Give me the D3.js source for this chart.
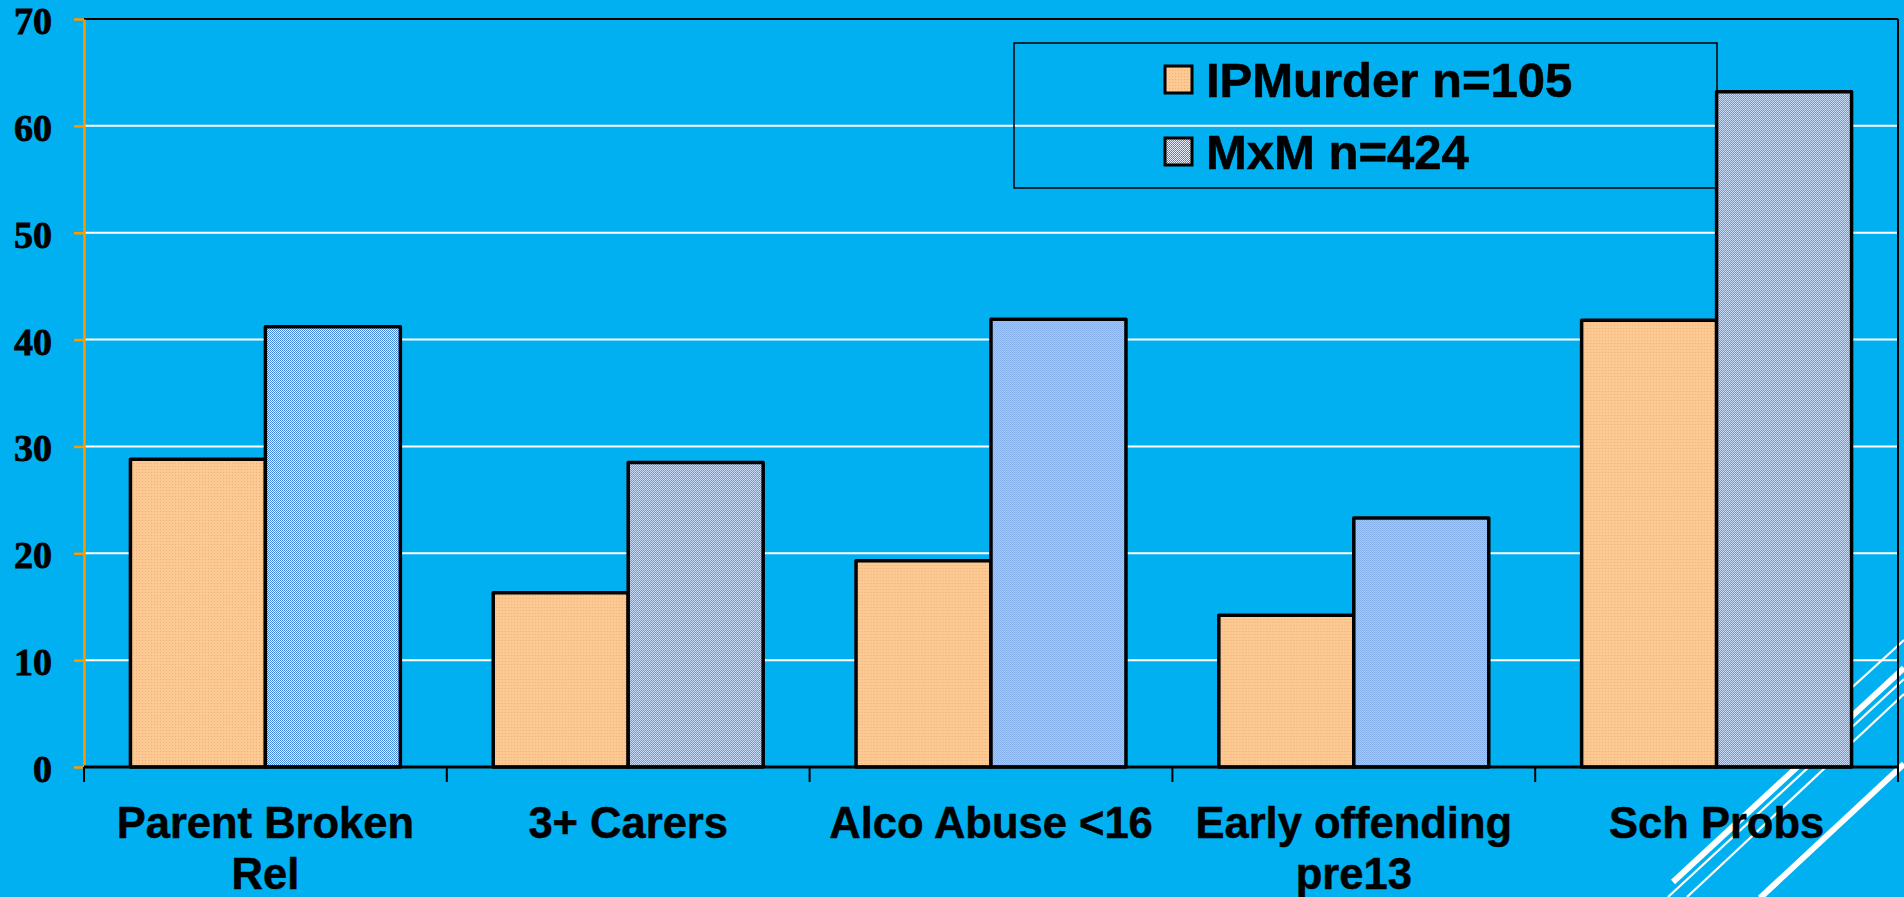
<!DOCTYPE html>
<html>
<head>
<meta charset="utf-8">
<script src="https://cdn.jsdelivr.net/npm/d3@7"></script>
<style>
  html, body { margin: 0; padding: 0; background: #00B0F0; overflow: hidden; }
  svg { display: block; }
</style>
</head>
<body>
<svg id="chart" width="1904" height="897"></svg>
<script>
// ---- data ----
const categories = [["Parent Broken", "Rel"], ["3+ Carers"], ["Alco Abuse <16"], ["Early offending", "pre13"], ["Sch Probs"]];
const seriesNames = ["IPMurder n=105", "MxM n=424"];
const ipMurder = [28.8, 16.3, 19.3, 14.2, 41.8];
const mxm = [41.2, 28.5, 41.9, 23.3, 63.2];
const yTicks = [0, 10, 20, 30, 40, 50, 60, 70];

// ---- layout ----
const W = 1904, H = 897;
const plot = { left: 84, right: 1898, top: 19, bottom: 767 };
const BG = "#00B0F0";

const svg = d3.select("#chart");
svg.append("rect").attr("width", W).attr("height", H).attr("fill", BG);

// patterns
const defs = svg.append("defs");
const pOr = defs.append("pattern").attr("id", "pOrange").attr("patternUnits", "userSpaceOnUse")
  .attr("width", 3).attr("height", 3);
pOr.append("rect").attr("width", 3).attr("height", 3).attr("fill", "#FBC991");
pOr.append("rect").attr("x", 1).attr("y", 1).attr("width", 1).attr("height", 1).attr("fill", "#EBB07A");
const pBl = defs.append("pattern").attr("id", "pBlue").attr("patternUnits", "userSpaceOnUse")
  .attr("width", 2).attr("height", 2);
pBl.append("rect").attr("width", 2).attr("height", 2).attr("fill", "#E8EFFA");
pBl.append("rect").attr("x", 0).attr("y", 0).attr("width", 1).attr("height", 1).attr("fill", "#3F82DC");
pBl.append("rect").attr("x", 1).attr("y", 1).attr("width", 1).attr("height", 1).attr("fill", "#4E8FE2");

// decorative theme lines (slide background, bottom-right)
const decor = [
  { x1: 1673, y1: 882, x2: 1904, y2: 668, w: 6 },
  { x1: 1668, y1: 897, x2: 1904, y2: 679, w: 2.2 },
  { x1: 1687, y1: 897, x2: 1904, y2: 694, w: 2.2 },
  { x1: 1790, y1: 744, x2: 1904, y2: 640, w: 2.2 },
  { x1: 1760, y1: 898, x2: 1904, y2: 764, w: 6 }
];
svg.append("g").selectAll("line").data(decor).join("line")
  .attr("x1", d => d.x1).attr("y1", d => d.y1).attr("x2", d => d.x2).attr("y2", d => d.y2)
  .attr("stroke", "#FFFFFF").attr("stroke-width", d => d.w);

// scales
const y = d3.scaleLinear().domain([0, 70]).range([plot.bottom, plot.top]);
const x0 = d3.scaleBand().domain(d3.range(categories.length)).range([plot.left, plot.right]).padding(0);
const x1 = d3.scaleBand().domain([0, 1]).range([0, x0.bandwidth()]).paddingInner(0).paddingOuter(0.344);

// gridlines
svg.append("g").selectAll("line").data(yTicks.filter(t => t > 0 && t < 70)).join("line")
  .attr("x1", plot.left).attr("x2", plot.right)
  .attr("y1", d => y(d)).attr("y2", d => y(d))
  .attr("stroke", "#FFFFFF").attr("stroke-width", 2);

// top & right frame
svg.append("line").attr("x1", plot.left).attr("x2", plot.right).attr("y1", plot.top).attr("y2", plot.top)
  .attr("stroke", "#000").attr("stroke-width", 2);
svg.append("line").attr("x1", plot.right).attr("x2", plot.right).attr("y1", plot.top).attr("y2", plot.bottom)
  .attr("stroke", "#000").attr("stroke-width", 2);

// bars
const series = [ipMurder, mxm];
const fills = ["url(#pOrange)", "url(#pBlue)"];
const groups = svg.append("g").selectAll("g").data(categories).join("g")
  .attr("transform", (d, i) => `translate(${x0(i)},0)`);
groups.selectAll("rect").data((d, i) => series.map((s, k) => ({ k, v: s[i] }))).join("rect")
  .attr("x", d => x1(d.k))
  .attr("width", x1.bandwidth())
  .attr("y", d => y(d.v))
  .attr("height", d => y(0) - y(d.v))
  .attr("fill", d => fills[d.k])
  .attr("stroke", "#000").attr("stroke-width", 3.5).attr("stroke-linejoin", "round");

// y axis (orange)
const yAxis = d3.axisLeft(y).tickValues(yTicks).tickSize(10).tickPadding(22).tickSizeOuter(0);
const gy = svg.append("g").attr("transform", `translate(${plot.left},0)`).call(yAxis);
gy.select(".domain").attr("stroke", "#FF9900").attr("stroke-width", 2.5);
gy.selectAll(".tick line").attr("stroke", "#FF9900").attr("stroke-width", 2.5);
gy.selectAll(".tick text")
  .attr("font-family", "'Liberation Serif', 'Times New Roman', serif")
  .attr("font-weight", "bold").attr("font-size", 38).attr("fill", "#000")
  .attr("stroke", "#000").attr("stroke-width", 0.8)
  .attr("dy", "0.38em");

// x axis (black)
const xTickPos = d3.range(categories.length + 1).map(i => plot.left + i * x0.step());
svg.append("line").attr("x1", plot.left).attr("x2", plot.right).attr("y1", plot.bottom).attr("y2", plot.bottom)
  .attr("stroke", "#000").attr("stroke-width", 3);
svg.append("g").selectAll("line").data(xTickPos).join("line")
  .attr("x1", d => d).attr("x2", d => d).attr("y1", plot.bottom).attr("y2", plot.bottom + 15)
  .attr("stroke", "#000").attr("stroke-width", 2);

// x labels
const xl = svg.append("g").selectAll("text").data(categories).join("text")
  .attr("text-anchor", "middle")
  .attr("font-family", "'Liberation Sans', Arial, sans-serif")
  .attr("font-weight", "bold").attr("font-size", 43.5).attr("fill", "#000")
  .attr("stroke", "#000").attr("stroke-width", 0.5);
xl.selectAll("tspan").data((d, i) => d.map((t, j) => ({ t, j, i }))).join("tspan")
  .attr("x", d => x0(d.i) + x0.bandwidth() / 2)
  .attr("y", d => 838 + d.j * 51)
  .text(d => d.t);

// legend
const lg = svg.append("g");
lg.append("rect").attr("x", 1014).attr("y", 43).attr("width", 703).attr("height", 145)
  .attr("fill", "none").attr("stroke", "#000").attr("stroke-width", 1.5);
const items = lg.selectAll("g").data(seriesNames).join("g")
  .attr("transform", (d, i) => `translate(1165,${66 + i * 72})`);
items.append("rect").attr("width", 27).attr("height", 27)
  .attr("fill", (d, i) => fills[i]).attr("stroke", "#000").attr("stroke-width", 3);
items.append("text").attr("x", 41).attr("y", 31)
  .attr("font-family", "'Liberation Sans', Arial, sans-serif")
  .attr("font-weight", "bold").attr("font-size", 49).attr("fill", "#000")
  .attr("stroke", "#000").attr("stroke-width", 0.6)
  .text(d => d);
</script>
</body>
</html>
